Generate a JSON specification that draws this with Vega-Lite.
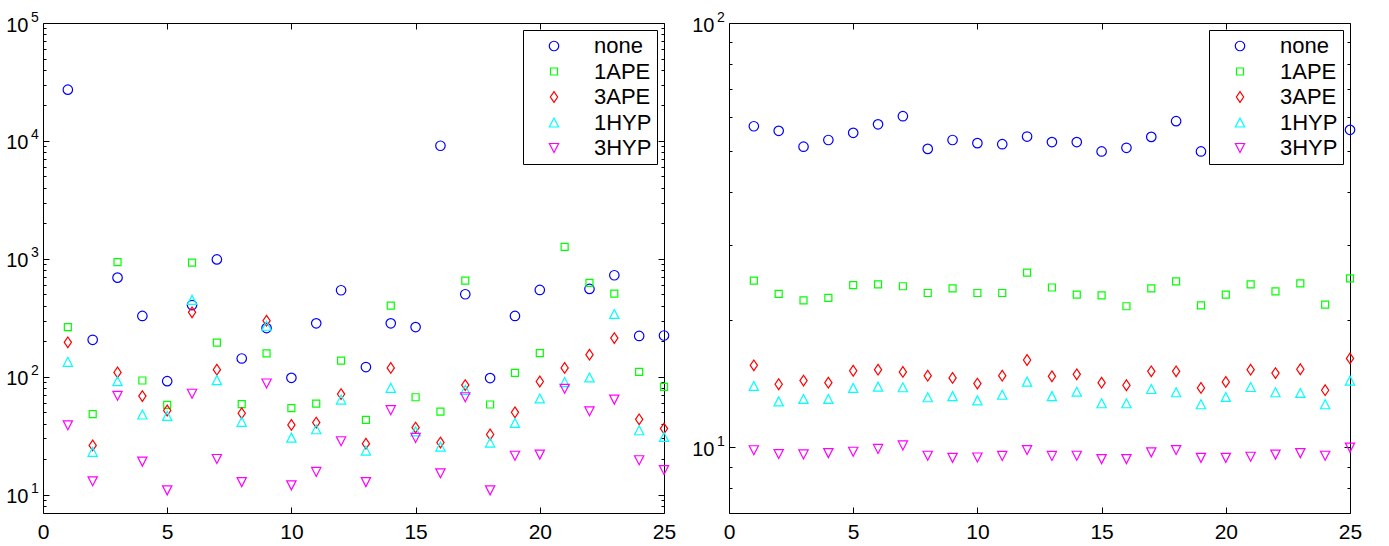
{
  "$schema": "https://vega.github.io/schema/vega-lite/v6.json",
  "padding": {"left": 5, "top": 9, "right": 0, "bottom": 0},
  "background": "white",
  "config": {
    "view": {"stroke": "black", "strokeWidth": 1},
    "axis": {"domain": false, "grid": false, "tickColor": "black", "tickWidth": 1, "labelColor": "black", "labelFont": "Liberation Sans", "labelFontSize": 20},
    "legend": {"orient": "none", "legendX": 480, "legendY": 7, "columns": 1, "columnPadding": 7.5, "strokeColor": "black", "fillColor": "white", "padding": 5, "labelFont": "Liberation Sans", "labelFontSize": 22, "labelColor": "black", "labelAlign": "left", "symbolOffset": 15, "labelOffset": 29, "rowPadding": 3.5, "symbolStrokeWidth": 1.2}
  },
  "datasets": {
    "L": [
      {"x":1,"s":"none","v":27200},{"x":2,"s":"none","v":206},{"x":3,"s":"none","v":693},{"x":4,"s":"none","v":328},{"x":5,"s":"none","v":91.8},{"x":6,"s":"none","v":406},{"x":7,"s":"none","v":989},{"x":8,"s":"none","v":143},{"x":9,"s":"none","v":259},{"x":10,"s":"none","v":98},{"x":11,"s":"none","v":284},{"x":12,"s":"none","v":542},{"x":13,"s":"none","v":121},{"x":14,"s":"none","v":284},{"x":15,"s":"none","v":264},{"x":16,"s":"none","v":9100},{"x":17,"s":"none","v":501},{"x":18,"s":"none","v":97.5},{"x":19,"s":"none","v":328},{"x":20,"s":"none","v":545},{"x":21,"s":"none","v":20000},{"x":22,"s":"none","v":556},{"x":23,"s":"none","v":726},{"x":24,"s":"none","v":222},{"x":25,"s":"none","v":224},
      {"x":1,"s":"1APE","v":264},{"x":2,"s":"1APE","v":48.2},{"x":3,"s":"1APE","v":937},{"x":4,"s":"1APE","v":93},{"x":5,"s":"1APE","v":57.8},{"x":6,"s":"1APE","v":931},{"x":7,"s":"1APE","v":195},{"x":8,"s":"1APE","v":58.6},{"x":9,"s":"1APE","v":158},{"x":10,"s":"1APE","v":54.2},{"x":11,"s":"1APE","v":59.3},{"x":12,"s":"1APE","v":137},{"x":13,"s":"1APE","v":43.2},{"x":14,"s":"1APE","v":401},{"x":15,"s":"1APE","v":67.1},{"x":16,"s":"1APE","v":50.7},{"x":17,"s":"1APE","v":654},{"x":18,"s":"1APE","v":58.2},{"x":19,"s":"1APE","v":108},{"x":20,"s":"1APE","v":159},{"x":21,"s":"1APE","v":1265},{"x":22,"s":"1APE","v":625},{"x":23,"s":"1APE","v":507},{"x":24,"s":"1APE","v":110},{"x":25,"s":"1APE","v":82.2},
      {"x":1,"s":"3APE","v":196},{"x":2,"s":"3APE","v":26.2},{"x":3,"s":"3APE","v":109},{"x":4,"s":"3APE","v":68.6},{"x":5,"s":"3APE","v":51.8},{"x":6,"s":"3APE","v":352},{"x":7,"s":"3APE","v":115},{"x":8,"s":"3APE","v":49.1},{"x":9,"s":"3APE","v":299},{"x":10,"s":"3APE","v":39.1},{"x":11,"s":"3APE","v":40.9},{"x":12,"s":"3APE","v":71.3},{"x":13,"s":"3APE","v":27.1},{"x":14,"s":"3APE","v":119},{"x":15,"s":"3APE","v":37.1},{"x":16,"s":"3APE","v":27.7},{"x":17,"s":"3APE","v":85},{"x":18,"s":"3APE","v":32.4},{"x":19,"s":"3APE","v":50},{"x":20,"s":"3APE","v":91.2},{"x":21,"s":"3APE","v":119},{"x":22,"s":"3APE","v":154},{"x":23,"s":"3APE","v":213},{"x":24,"s":"3APE","v":43.6},{"x":25,"s":"3APE","v":36.4},
      {"x":1,"s":"1HYP","v":134},{"x":2,"s":"1HYP","v":23.1},{"x":3,"s":"1HYP","v":91.8},{"x":4,"s":"1HYP","v":47.9},{"x":5,"s":"1HYP","v":46.6},{"x":6,"s":"1HYP","v":449},{"x":7,"s":"1HYP","v":93.7},{"x":8,"s":"1HYP","v":41.5},{"x":9,"s":"1HYP","v":271},{"x":10,"s":"1HYP","v":30.5},{"x":11,"s":"1HYP","v":35.9},{"x":12,"s":"1HYP","v":64.1},{"x":13,"s":"1HYP","v":23.7},{"x":14,"s":"1HYP","v":80.7},{"x":15,"s":"1HYP","v":34.5},{"x":16,"s":"1HYP","v":25.6},{"x":17,"s":"1HYP","v":77.6},{"x":18,"s":"1HYP","v":27.7},{"x":19,"s":"1HYP","v":40.6},{"x":20,"s":"1HYP","v":65.5},{"x":21,"s":"1HYP","v":90.2},{"x":22,"s":"1HYP","v":98.7},{"x":23,"s":"1HYP","v":341},{"x":24,"s":"1HYP","v":35.2},{"x":25,"s":"1HYP","v":30.9},
      {"x":1,"s":"3HYP","v":38.8},{"x":2,"s":"3HYP","v":13.0},{"x":3,"s":"3HYP","v":69},{"x":4,"s":"3HYP","v":19.1},{"x":5,"s":"3HYP","v":10.9},{"x":6,"s":"3HYP","v":71.8},{"x":7,"s":"3HYP","v":20.1},{"x":8,"s":"3HYP","v":12.8},{"x":9,"s":"3HYP","v":87.7},{"x":10,"s":"3HYP","v":12.0},{"x":11,"s":"3HYP","v":15.6},{"x":12,"s":"3HYP","v":28.4},{"x":13,"s":"3HYP","v":12.8},{"x":14,"s":"3HYP","v":52.1},{"x":15,"s":"3HYP","v":30.3},{"x":16,"s":"3HYP","v":15.2},{"x":17,"s":"3HYP","v":67.1},{"x":18,"s":"3HYP","v":10.9},{"x":19,"s":"3HYP","v":21.4},{"x":20,"s":"3HYP","v":21.9},{"x":21,"s":"3HYP","v":79.1},{"x":22,"s":"3HYP","v":51},{"x":23,"s":"3HYP","v":64.1},{"x":24,"s":"3HYP","v":19.6},{"x":25,"s":"3HYP","v":16.2}
    ],
    "R": [
      {"x":1,"s":"none","v":57.1},{"x":2,"s":"none","v":55.7},{"x":3,"s":"none","v":51.1},{"x":4,"s":"none","v":53.0},{"x":5,"s":"none","v":55.1},{"x":6,"s":"none","v":57.7},{"x":7,"s":"none","v":60.3},{"x":8,"s":"none","v":50.5},{"x":9,"s":"none","v":53.0},{"x":10,"s":"none","v":52.1},{"x":11,"s":"none","v":51.8},{"x":12,"s":"none","v":54.0},{"x":13,"s":"none","v":52.4},{"x":14,"s":"none","v":52.4},{"x":15,"s":"none","v":49.8},{"x":16,"s":"none","v":50.8},{"x":17,"s":"none","v":53.9},{"x":18,"s":"none","v":58.7},{"x":19,"s":"none","v":49.8},{"x":20,"s":"none","v":52},{"x":21,"s":"none","v":54},{"x":22,"s":"none","v":51},{"x":23,"s":"none","v":55},{"x":24,"s":"none","v":50},{"x":25,"s":"none","v":56.0},
      {"x":1,"s":"1APE","v":24.7},{"x":2,"s":"1APE","v":23.0},{"x":3,"s":"1APE","v":22.2},{"x":4,"s":"1APE","v":22.5},{"x":5,"s":"1APE","v":24.1},{"x":6,"s":"1APE","v":24.2},{"x":7,"s":"1APE","v":23.96},{"x":8,"s":"1APE","v":23.1},{"x":9,"s":"1APE","v":23.7},{"x":10,"s":"1APE","v":23.1},{"x":11,"s":"1APE","v":23.1},{"x":12,"s":"1APE","v":25.8},{"x":13,"s":"1APE","v":23.8},{"x":14,"s":"1APE","v":22.9},{"x":15,"s":"1APE","v":22.8},{"x":16,"s":"1APE","v":21.5},{"x":17,"s":"1APE","v":23.7},{"x":18,"s":"1APE","v":24.6},{"x":19,"s":"1APE","v":21.6},{"x":20,"s":"1APE","v":22.9},{"x":21,"s":"1APE","v":24.2},{"x":22,"s":"1APE","v":23.3},{"x":23,"s":"1APE","v":24.35},{"x":24,"s":"1APE","v":21.7},{"x":25,"s":"1APE","v":25.0},
      {"x":1,"s":"3APE","v":15.6},{"x":2,"s":"3APE","v":14.08},{"x":3,"s":"3APE","v":14.36},{"x":4,"s":"3APE","v":14.2},{"x":5,"s":"3APE","v":15.15},{"x":6,"s":"3APE","v":15.24},{"x":7,"s":"3APE","v":15.05},{"x":8,"s":"3APE","v":14.75},{"x":9,"s":"3APE","v":14.57},{"x":10,"s":"3APE","v":14.13},{"x":11,"s":"3APE","v":14.75},{"x":12,"s":"3APE","v":16.06},{"x":13,"s":"3APE","v":14.7},{"x":14,"s":"3APE","v":14.86},{"x":15,"s":"3APE","v":14.2},{"x":16,"s":"3APE","v":14.0},{"x":17,"s":"3APE","v":15.1},{"x":18,"s":"3APE","v":15.1},{"x":19,"s":"3APE","v":13.8},{"x":20,"s":"3APE","v":14.26},{"x":21,"s":"3APE","v":15.24},{"x":22,"s":"3APE","v":14.96},{"x":23,"s":"3APE","v":15.27},{"x":24,"s":"3APE","v":13.63},{"x":25,"s":"3APE","v":16.2},
      {"x":1,"s":"1HYP","v":13.95},{"x":2,"s":"1HYP","v":12.83},{"x":3,"s":"1HYP","v":13.0},{"x":4,"s":"1HYP","v":13.0},{"x":5,"s":"1HYP","v":13.8},{"x":6,"s":"1HYP","v":13.9},{"x":7,"s":"1HYP","v":13.85},{"x":8,"s":"1HYP","v":13.12},{"x":9,"s":"1HYP","v":13.2},{"x":10,"s":"1HYP","v":12.9},{"x":11,"s":"1HYP","v":13.3},{"x":12,"s":"1HYP","v":14.28},{"x":13,"s":"1HYP","v":13.2},{"x":14,"s":"1HYP","v":13.52},{"x":15,"s":"1HYP","v":12.7},{"x":16,"s":"1HYP","v":12.7},{"x":17,"s":"1HYP","v":13.72},{"x":18,"s":"1HYP","v":13.48},{"x":19,"s":"1HYP","v":12.63},{"x":20,"s":"1HYP","v":13.14},{"x":21,"s":"1HYP","v":13.87},{"x":22,"s":"1HYP","v":13.48},{"x":23,"s":"1HYP","v":13.43},{"x":24,"s":"1HYP","v":12.63},{"x":25,"s":"1HYP","v":14.36},
      {"x":1,"s":"3HYP","v":9.84},{"x":2,"s":"3HYP","v":9.64},{"x":3,"s":"3HYP","v":9.62},{"x":4,"s":"3HYP","v":9.69},{"x":5,"s":"3HYP","v":9.76},{"x":6,"s":"3HYP","v":9.91},{"x":7,"s":"3HYP","v":10.1},{"x":8,"s":"3HYP","v":9.55},{"x":9,"s":"3HYP","v":9.44},{"x":10,"s":"3HYP","v":9.46},{"x":11,"s":"3HYP","v":9.54},{"x":12,"s":"3HYP","v":9.85},{"x":13,"s":"3HYP","v":9.54},{"x":14,"s":"3HYP","v":9.55},{"x":15,"s":"3HYP","v":9.38},{"x":16,"s":"3HYP","v":9.38},{"x":17,"s":"3HYP","v":9.73},{"x":18,"s":"3HYP","v":9.85},{"x":19,"s":"3HYP","v":9.44},{"x":20,"s":"3HYP","v":9.44},{"x":21,"s":"3HYP","v":9.5},{"x":22,"s":"3HYP","v":9.61},{"x":23,"s":"3HYP","v":9.69},{"x":24,"s":"3HYP","v":9.55},{"x":25,"s":"3HYP","v":9.98}
    ]
  },
  "bounds": "flush",
  "spacing": 65,
  "resolve": {
    "scale": {"x": "independent", "y": "independent", "color": "independent", "shape": "independent", "size": "independent"},
    "legend": {"color": "independent", "shape": "independent", "size": "independent"}
  },
  "hconcat": [
    {
      "width": 621, "height": 490,
      "data": {"name": "L"},
      "resolve": {"axis": {"x": "independent", "y": "independent"}},
      "layer": [
        {
          "mark": {"type": "point", "filled": false, "strokeWidth": 1.2, "opacity": 1},
          "encoding": {
            "x": {"field": "x", "type": "quantitative", "scale": {"domain": [0, 25], "nice": false, "zero": false},
                  "axis": {"orient": "bottom", "title": null, "values": [0, 5, 10, 15, 20, 25], "format": "d", "tickSize": -6, "labelPadding": 14, "labelFlush": false, "labelFontSize": 21}},
            "y": {"field": "v", "type": "quantitative", "scale": {"type": "log", "domain": [7, 100000], "nice": false},
                  "axis": {"orient": "left", "title": null, "values": [10, 100, 1000, 10000, 100000], "labelExpr": "'10'", "tickSize": -6, "labelPadding": 21, "labelOffset": 2}},
            "color": {"field": "s", "type": "nominal", "scale": {"domain": ["none", "1APE", "3APE", "1HYP", "3HYP"], "range": ["#0000ff", "#00ff00", "#ff0000", "#00ffff", "#ff00ff"]}, "legend": {"title": null}},
            "shape": {"field": "s", "type": "nominal", "scale": {"domain": ["none", "1APE", "3APE", "1HYP", "3HYP"], "range": ["circle", "M-1,-1L1,-1L1,1L-1,1Z", "M0,-1L0.68,0L0,1L-0.68,0Z", "M0,-0.97L1,0.97L-1,0.97Z", "M-1,-0.97L1,-0.97L0,0.97Z"]}, "legend": {"title": null}},
            "size": {"field": "s", "type": "nominal", "scale": {"type": "ordinal", "domain": ["none", "1APE", "3APE", "1HYP", "3HYP"], "range": [90, 49, 114, 86, 86]}, "legend": {"title": null}}
          }
        },
        {
          "mark": {"type": "point", "opacity": 0},
          "encoding": {
            "x": {"field": "x", "type": "quantitative", "scale": {"domain": [0, 25], "nice": false, "zero": false},
                  "axis": {"orient": "top", "title": null, "values": [5, 10, 15, 20], "labels": false, "tickSize": -6}},
            "y": {"field": "v", "type": "quantitative", "scale": {"type": "log", "domain": [7, 100000], "nice": false},
                  "axis": {"orient": "left", "title": null, "values": [10, 100, 1000, 10000, 100000], "labelExpr": "'' + round(log(datum.value)/LN10)", "ticks": false, "labelPadding": 4.7, "labelFontSize": 14, "labelOffset": -6}}
          }
        },
        {
          "mark": {"type": "point", "opacity": 0},
          "encoding": {
            "x": {"field": "x", "type": "quantitative", "scale": {"domain": [0, 25], "nice": false, "zero": false}, "axis": null},
            "y": {"field": "v", "type": "quantitative", "scale": {"type": "log", "domain": [7, 100000], "nice": false},
                  "axis": {"orient": "left", "title": null, "values": [8, 9, 20, 30, 40, 50, 60, 70, 80, 90, 200, 300, 400, 500, 600, 700, 800, 900, 2000, 3000, 4000, 5000, 6000, 7000, 8000, 9000, 20000, 30000, 40000, 50000, 60000, 70000, 80000, 90000], "labels": false, "tickSize": -3}}
          }
        },
        {
          "mark": {"type": "point", "opacity": 0},
          "encoding": {
            "x": {"field": "x", "type": "quantitative", "scale": {"domain": [0, 25], "nice": false, "zero": false}, "axis": null},
            "y": {"field": "v", "type": "quantitative", "scale": {"type": "log", "domain": [7, 100000], "nice": false},
                  "axis": {"orient": "right", "title": null, "values": [10, 100, 1000, 10000, 100000], "labels": false, "tickSize": -6}}
          }
        },
        {
          "mark": {"type": "point", "opacity": 0},
          "encoding": {
            "x": {"field": "x", "type": "quantitative", "scale": {"domain": [0, 25], "nice": false, "zero": false}, "axis": null},
            "y": {"field": "v", "type": "quantitative", "scale": {"type": "log", "domain": [7, 100000], "nice": false},
                  "axis": {"orient": "right", "title": null, "values": [8, 9, 20, 30, 40, 50, 60, 70, 80, 90, 200, 300, 400, 500, 600, 700, 800, 900, 2000, 3000, 4000, 5000, 6000, 7000, 8000, 9000, 20000, 30000, 40000, 50000, 60000, 70000, 80000, 90000], "labels": false, "tickSize": -3}}
          }
        }
      ]
    },
    {
      "width": 621, "height": 490,
      "data": {"name": "R"},
      "resolve": {"axis": {"x": "independent", "y": "independent"}},
      "layer": [
        {
          "mark": {"type": "point", "filled": false, "strokeWidth": 1.2, "opacity": 1},
          "encoding": {
            "x": {"field": "x", "type": "quantitative", "scale": {"domain": [0, 25], "nice": false, "zero": false},
                  "axis": {"orient": "bottom", "title": null, "values": [0, 5, 10, 15, 20, 25], "format": "d", "tickSize": -6, "labelPadding": 14, "labelFlush": false, "labelFontSize": 21}},
            "y": {"field": "v", "type": "quantitative", "scale": {"type": "log", "domain": [7, 100], "nice": false},
                  "axis": {"orient": "left", "title": null, "values": [10, 100], "labelExpr": "'10'", "tickSize": -6, "labelPadding": 21, "labelOffset": 2}},
            "color": {"field": "s", "type": "nominal", "scale": {"domain": ["none", "1APE", "3APE", "1HYP", "3HYP"], "range": ["#0000ff", "#00ff00", "#ff0000", "#00ffff", "#ff00ff"]}, "legend": {"title": null}},
            "shape": {"field": "s", "type": "nominal", "scale": {"domain": ["none", "1APE", "3APE", "1HYP", "3HYP"], "range": ["circle", "M-1,-1L1,-1L1,1L-1,1Z", "M0,-1L0.68,0L0,1L-0.68,0Z", "M0,-0.97L1,0.97L-1,0.97Z", "M-1,-0.97L1,-0.97L0,0.97Z"]}, "legend": {"title": null}},
            "size": {"field": "s", "type": "nominal", "scale": {"type": "ordinal", "domain": ["none", "1APE", "3APE", "1HYP", "3HYP"], "range": [90, 49, 114, 86, 86]}, "legend": {"title": null}}
          }
        },
        {
          "mark": {"type": "point", "opacity": 0},
          "encoding": {
            "x": {"field": "x", "type": "quantitative", "scale": {"domain": [0, 25], "nice": false, "zero": false},
                  "axis": {"orient": "top", "title": null, "values": [5, 10, 15, 20], "labels": false, "tickSize": -6}},
            "y": {"field": "v", "type": "quantitative", "scale": {"type": "log", "domain": [7, 100], "nice": false},
                  "axis": {"orient": "left", "title": null, "values": [10, 100], "labelExpr": "'' + round(log(datum.value)/LN10)", "ticks": false, "labelPadding": 4.7, "labelFontSize": 14, "labelOffset": -6}}
          }
        },
        {
          "mark": {"type": "point", "opacity": 0},
          "encoding": {
            "x": {"field": "x", "type": "quantitative", "scale": {"domain": [0, 25], "nice": false, "zero": false}, "axis": null},
            "y": {"field": "v", "type": "quantitative", "scale": {"type": "log", "domain": [7, 100], "nice": false},
                  "axis": {"orient": "left", "title": null, "values": [8, 9, 20, 30, 40, 50, 60, 70, 80, 90], "labels": false, "tickSize": -3}}
          }
        },
        {
          "mark": {"type": "point", "opacity": 0},
          "encoding": {
            "x": {"field": "x", "type": "quantitative", "scale": {"domain": [0, 25], "nice": false, "zero": false}, "axis": null},
            "y": {"field": "v", "type": "quantitative", "scale": {"type": "log", "domain": [7, 100], "nice": false},
                  "axis": {"orient": "right", "title": null, "values": [10, 100], "labels": false, "tickSize": -6}}
          }
        },
        {
          "mark": {"type": "point", "opacity": 0},
          "encoding": {
            "x": {"field": "x", "type": "quantitative", "scale": {"domain": [0, 25], "nice": false, "zero": false}, "axis": null},
            "y": {"field": "v", "type": "quantitative", "scale": {"type": "log", "domain": [7, 100], "nice": false},
                  "axis": {"orient": "right", "title": null, "values": [8, 9, 20, 30, 40, 50, 60, 70, 80, 90], "labels": false, "tickSize": -3}}
          }
        }
      ]
    }
  ]
}
